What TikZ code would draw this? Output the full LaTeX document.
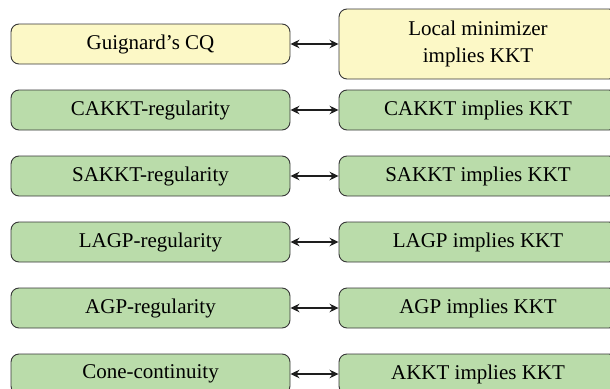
\documentclass[tikz,border=0pt]{standalone}
\usepackage{fontspec}
\setmainfont{Liberation Serif}
\usetikzlibrary{arrows.meta}
\definecolor{boxyellow}{RGB}{252,248,198}
\definecolor{boxgreen}{RGB}{186,220,170}
\definecolor{boxline}{RGB}{55,55,55}
\definecolor{arrowcol}{RGB}{30,30,30}
\tikzset{
  basebox/.style={draw=boxline, line width=0.9pt, rounded corners=8pt, inner sep=0pt,
    minimum height=40pt, align=center, font=\fontsize{21}{27}\selectfont},
  leftbox/.style={basebox, minimum width=279pt},
  rightbox/.style={basebox, minimum width=278pt},
  yel/.style={fill=boxyellow},
  grn/.style={fill=boxgreen},
  equiv/.style={line width=1.9pt, draw=arrowcol,
    {Stealth[length=9pt,width=8.5pt,inset=3pt]}-{Stealth[length=9pt,width=8.5pt,inset=3pt]}}
}
\begin{document}
\begin{tikzpicture}[x=1pt,y=1pt]
\useasboundingbox (0,0) rectangle (610,-388);
\node[leftbox,yel] (l1) at (150.5,-44) {Guignard's CQ};
\node[rightbox,yel,minimum height=70pt] (r1) at (478,-44) {Local minimizer\\implies KKT};
\node[leftbox,grn] (l2) at (150.5,-110) {CAKKT-regularity};
\node[rightbox,grn] (r2) at (478,-110) {CAKKT implies KKT};
\node[leftbox,grn] (l3) at (150.5,-176) {SAKKT-regularity};
\node[rightbox,grn] (r3) at (478,-176) {SAKKT implies KKT};
\node[leftbox,grn] (l4) at (150.5,-242) {LAGP-regularity};
\node[rightbox,grn] (r4) at (478,-242) {LAGP implies KKT};
\node[leftbox,grn] (l5) at (150.5,-308) {AGP-regularity};
\node[rightbox,grn] (r5) at (478,-308) {AGP implies KKT};
\node[leftbox,grn] (l6) at (150.5,-374) {Cone-continuity};
\node[rightbox,grn] (r6) at (478,-374) {AKKT implies KKT};
\foreach \i in {1,...,6} {\draw[equiv] (l\i.east) -- (r\i.west);}
\end{tikzpicture}
\end{document}
